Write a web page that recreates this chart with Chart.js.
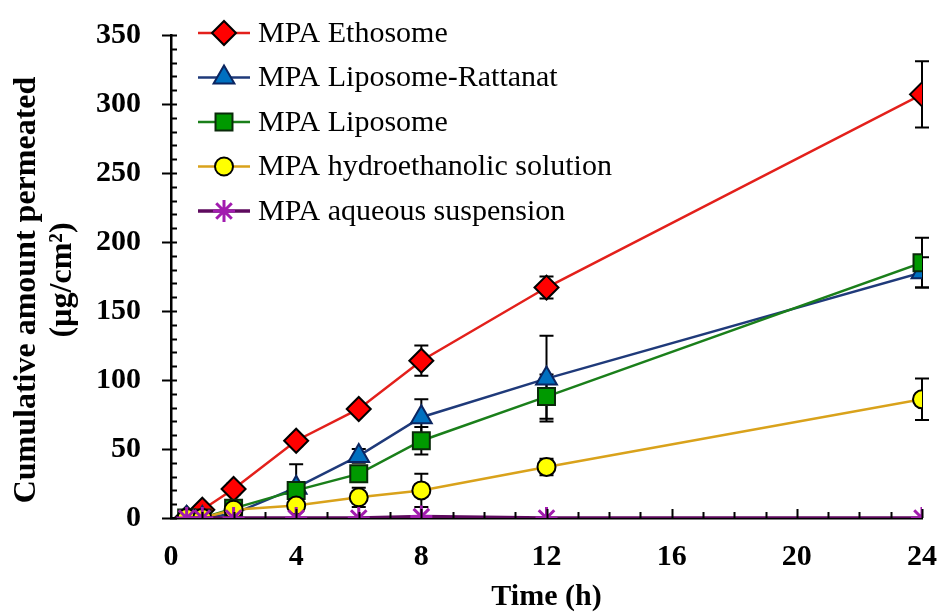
<!DOCTYPE html>
<html>
<head>
<meta charset="utf-8">
<script src="https://cdn.jsdelivr.net/npm/chart.js@4.4.1/dist/chart.umd.min.js"></script>
<style>
html,body{margin:0;padding:0;background:#fff;}
#caja{width:938px;height:615px;}
</style>
</head>
<body>
<div id="caja"><canvas id="miGrafico" width="938" height="615"></canvas></div>
<script>
// DATOS
const horas = [0.5, 1, 2, 4, 6, 8, 12, 24];

const etosoma = [0, 6, 21, 56, 79, 114, 167, 307];
const etosomaErr = [0, 2, 4, 4, 3, 11, 8, 24];

const liposomaRattanat = [0, 0, 3, 22, 45, 73, 101, 178];
const liposomaRattanatErr = [0, 0, 1, 17, 5, 13, 31, 11];

const liposoma = [0, 0, 7, 20, 32, 56, 88, 185];
const liposomaErr = [0, 0, 1, 3, 4, 10, 16, 18];

const hidroetanolica = [0, 0, 6, 9, 15, 20, 37, 86];
const hidroetanolicaErr = [0, 0, 1, 2, 7, 12, 6, 15];

const acuosa = [0, 0, 0, 0, 0, 1, 0, 0];

const nombres = [
'MPA Ethosome',
'MPA Liposome-Rattanat',
'MPA Liposome',
'MPA hydroethanolic solution',
'MPA aqueous suspension'
];

const ticksX = [0, 4, 8, 12, 16, 20, 24];
const ticksY = [0, 50, 100, 150, 200, 250, 300, 350];

const fuente = 'Liberation Serif, Times New Roman, serif';

function puntos(valores){
return valores.map((v, i) => ({x: horas[i], y: v}));
}


// BARRAS DE ERROR
const barrasError = {
id: 'barrasError',
beforeDatasetsDraw(chart){
const ctx = chart.ctx;
const xs = chart.scales.x;
const ys = chart.scales.y;
ctx.save();
ctx.strokeStyle = '#000';
ctx.lineWidth = 2;
chart.data.datasets.forEach(ds => {
if(!ds.errores) return;
ds.errores.forEach((e, i) => {
if(!e) return;
const px = xs.getPixelForValue(ds.data[i].x);
const arriba = ys.getPixelForValue(ds.data[i].y + e);
const abajo = ys.getPixelForValue(Math.max(0, ds.data[i].y - e));
ctx.beginPath();
ctx.moveTo(px, arriba); ctx.lineTo(px, abajo);
ctx.moveTo(px - 7, arriba); ctx.lineTo(px + 7, arriba);
ctx.moveTo(px - 7, abajo); ctx.lineTo(px + 7, abajo);
ctx.stroke();
});
});
ctx.restore();
}
};


// MARCAS DE LOS EJES, TITULO Y Y LEYENDA
const extras = {
id: 'extras',
afterDraw(chart){
const ctx = chart.ctx;
const xs = chart.scales.x;
const ys = chart.scales.y;
const area = chart.chartArea;
ctx.save();
ctx.strokeStyle = '#000';
ctx.lineWidth = 2;
ctx.beginPath();
for(let v = 0; v <= 350; v += 10){
const py = Math.round(ys.getPixelForValue(v)) + 0.5;
if(v % 50 === 0){
ctx.moveTo(area.left - 9, py); ctx.lineTo(area.left + 6, py);
}else{
ctx.moveTo(area.left, py); ctx.lineTo(area.left + 6, py);
}
}
for(let h = 1; h <= 24; h += 1){
const px = Math.round(xs.getPixelForValue(h)) + 0.5;
ctx.moveTo(px, area.bottom); ctx.lineTo(px, area.bottom - (h % 4 === 0 ? 9 : 6));
}
ctx.stroke();

// titulo eje Y
ctx.fillStyle = '#000';
ctx.textAlign = 'center';
ctx.textBaseline = 'middle';
ctx.font = 'bold 32px ' + fuente;
ctx.save();
ctx.translate(27, 290);
ctx.rotate(-Math.PI / 2);
ctx.fillText('Cumulative amount permeated', 0, 0);
ctx.restore();
ctx.save();
ctx.translate(63, 280);
ctx.rotate(-Math.PI / 2);
ctx.fillText('(\u00b5g/cm\u00b2)', 0, 0);
ctx.restore();

// leyenda
ctx.font = '30px ' + fuente;
ctx.textAlign = 'left';
chart.data.datasets.forEach((ds, i) => {
const y = 33 + i * 44.5;
ctx.strokeStyle = ds.borderColor;
ctx.lineWidth = ds.borderWidth;
ctx.beginPath();
ctx.moveTo(198, y); ctx.lineTo(250, y);
ctx.stroke();
ctx.fillStyle = ds.pointBackgroundColor;
ctx.strokeStyle = ds.pointBorderColor;
ctx.lineWidth = ds.pointBorderWidth;
Chart.helpers.drawPoint(ctx, {pointStyle: ds.pointStyle, radius: ds.pointRadius, rotation: 0, borderWidth: ds.pointBorderWidth}, 224, y);
ctx.fillStyle = '#000';
ctx.fillText(ds.label, 258, y + 1);
});
ctx.restore();
}
};


let ctx = document.getElementById('miGrafico').getContext('2d');

let grafico = new Chart(ctx, {

type: 'line',

data: {
datasets: [
{
label: nombres[0],
data: puntos(etosoma),
errores: etosomaErr,
borderColor: '#E3201B',
borderWidth: 2.5,
pointStyle: 'rectRot',
pointRadius: 12,
pointBackgroundColor: '#FF0000',
pointBorderColor: '#000',
pointBorderWidth: 2,
order: 5
},
{
label: nombres[1],
data: puntos(liposomaRattanat),
errores: liposomaRattanatErr,
borderColor: '#1F3A7A',
borderWidth: 2.5,
pointStyle: 'triangle',
pointRadius: 12,
pointBackgroundColor: '#0070C0',
pointBorderColor: '#0B2560',
pointBorderWidth: 2,
order: 4
},
{
label: nombres[2],
data: puntos(liposoma),
errores: liposomaErr,
borderColor: '#1A7F1A',
borderWidth: 2.5,
pointStyle: 'rect',
pointRadius: 12,
pointBackgroundColor: '#009900',
pointBorderColor: '#0A2A0A',
pointBorderWidth: 2,
order: 3
},
{
label: nombres[3],
data: puntos(hidroetanolica),
errores: hidroetanolicaErr,
borderColor: '#D9A21B',
borderWidth: 2.5,
pointStyle: 'circle',
pointRadius: 9,
pointBackgroundColor: '#FFFF00',
pointBorderColor: '#000',
pointBorderWidth: 2,
order: 2
},
{
label: nombres[4],
data: puntos(acuosa),
borderColor: '#5E0A5E',
borderWidth: 3.5,
pointStyle: 'star',
pointRadius: 11,
pointBackgroundColor: '#A21CAF',
pointBorderColor: '#A21CAF',
pointBorderWidth: 3,
order: 1
}
]
},

plugins: [barrasError, extras],

options: {
responsive: false,
animation: false,
layout: {
padding: {top: 35, right: 16, left: 0, bottom: 0}
},
plugins: {
legend: {display: false},
tooltip: {enabled: false}
},
scales: {
x: {
type: 'linear',
min: 0,
max: 24,
afterFit(scale){
scale.height = 97;
scale.paddingLeft = 0;
scale.paddingRight = 0;
},
afterBuildTicks(scale){ scale.ticks = ticksX.map(v => ({value: v})); },
grid: {display: false},
border: {display: true, color: '#000', width: 2.5},
ticks: {
color: '#000',
padding: 13,
maxRotation: 0,
font: {family: fuente, size: 30, weight: 'bold'}
},
title: {
display: true,
text: 'Time (h)',
color: '#000',
padding: {top: 0, bottom: 0},
font: {family: fuente, size: 30, weight: 'bold'}
}
},
y: {
min: 0,
max: 350,
afterFit(scale){
scale.width = 171;
scale.paddingTop = 0;
scale.paddingBottom = 0;
},
afterBuildTicks(scale){ scale.ticks = ticksY.map(v => ({value: v})); },
grid: {display: false},
border: {display: true, color: '#000', width: 2.5},
ticks: {
color: '#000',
padding: 22,
font: {family: fuente, size: 30, weight: 'bold'}
}
}
}
}

});
</script>
</body>
</html>
